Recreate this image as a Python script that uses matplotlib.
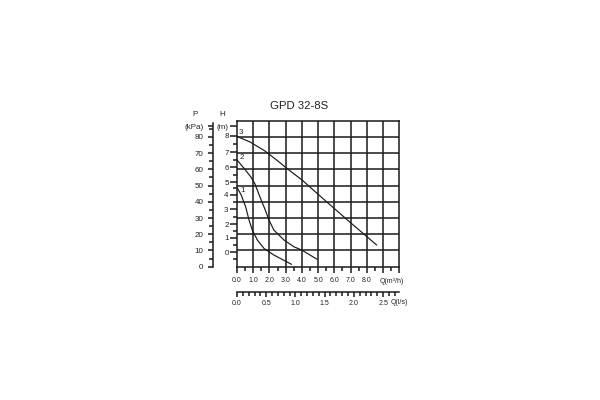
import matplotlib
matplotlib.use('Agg')
import matplotlib.pyplot as plt
from matplotlib.ticker import FixedLocator, MultipleLocator

plt.rcParams['font.family'] = ['Liberation Sans', 'DejaVu Sans']

# ---------------- data ----------------
title = "GPD 32-8S"
# pump curves: flow Q (m³/h) vs pressure P (kPa)
q1 = [0.02, 0.26, 0.53, 0.74, 0.94, 1.25, 1.66, 2.27, 3.35]
p1 = [48.5, 44.2, 37.0, 28.8, 22.6, 16.5, 11.3, 7.2, 1.5]
q2 = [0.0, 0.43, 0.84, 1.09, 1.29, 1.49, 1.70, 1.97, 2.27, 2.89, 3.50, 3.98, 4.93]
p2 = [65.8, 60.7, 55.5, 51.4, 46.2, 41.1, 36.0, 28.8, 22.6, 16.5, 12.3, 10.3, 4.6]
q3 = [0.0, 0.8, 1.7, 2.5, 3.2, 4.0, 5.5, 7.0, 8.6]
p3 = [80.3, 76.9, 71.5, 65.3, 59.6, 53.5, 40.2, 27.1, 13.4]
curve_names = ["1", "2", "3"]

p_ticks = [0, 10, 20, 30, 40, 50, 60, 70, 80]
p_labels = ["0", "10", "20", "30", "40", "50", "60", "70", "80"]
p_unit = "(kPa)"
h_labels = ["0", "1", "2", "3", "4", "5", "6", "7", "8"]
h_pos_kpa = [8.9, 17.8, 26.3, 35.4, 44.5, 52.2, 61.2, 70.4, 80.6]   # where H labels sit on the P scale
h_unit = "(m)"
q_m3h_ticks = [0, 1, 2, 3, 4, 5, 6, 7, 8]
q_m3h_labels = ["0.0", "1.0", "2.0", "3.0", "4.0", "5.0", "6.0", "7.0", "8.0"]
q_ls_ticks = [0.0, 0.5, 1.0, 1.5, 2.0, 2.5]
q_ls_labels = ["0.0", "0.5", "1.0", "1.5", "2.0", "2.5"]

# ---------------- figure ----------------
W, H = 600, 400
fig = plt.figure(figsize=(6, 4), dpi=100)
lc = '#1a1a1a'
tc = '#222222'

x0, x1 = 237, 399.3
y_top, y_bot = 120.7, 266.7
ax = fig.add_axes([x0 / W, 1 - y_bot / H, (x1 - x0) / W, (y_bot - y_top) / H])
ax.set_xlim(0, 10)
ax.set_ylim(0, 90)
for s in ax.spines.values():
    s.set_color(lc)
    s.set_linewidth(1.1)
for xv in range(1, 10):
    ax.axvline(xv, color=lc, lw=1.1, zorder=1)
for pv in range(10, 90, 10):
    ax.axhline(pv, color=lc, lw=1.1, zorder=1)

# curves
for q, p in zip([q1, q2, q3], [p1, p2, p3]):
    ax.plot(q, p, color=lc, lw=0.85, zorder=3, clip_on=False)
ax.annotate(curve_names[0], (q1[0], p1[0]), xytext=(2.5, -1.5), textcoords='offset points',
            fontsize=5.8, color=tc, ha='left', va='center')
ax.annotate(curve_names[1], (q2[0], p2[0]), xytext=(2.0, 1.5), textcoords='offset points',
            fontsize=5.8, color=tc, ha='left', va='center')
ax.annotate(curve_names[2], (q3[0], p3[0]), xytext=(1.5, 3.0), textcoords='offset points',
            fontsize=5.8, color=tc, ha='left', va='center')

# x axis (m³/h)
ax.xaxis.set_major_locator(FixedLocator(list(range(0, 11))))
ax.set_xticklabels(q_m3h_labels + ["", ""])
ax.xaxis.set_minor_locator(MultipleLocator(0.5))
ax.tick_params(axis='x', which='major', direction='out', length=4.3, width=1.1,
               color=lc, labelsize=5, labelcolor=tc, pad=3)
ax.tick_params(axis='x', which='minor', direction='out', length=2.8, width=1.1, color=lc)
ax.text(9.53, -9.0, "Q(m³/h)", fontsize=5, color=tc, ha='center', va='center')

# H ticks on the left of the grid
h_minor = [h_pos_kpa[0] - (h_pos_kpa[1] - h_pos_kpa[0]) / 2] + \
          [(a + b) / 2 for a, b in zip(h_pos_kpa[:-1], h_pos_kpa[1:])]
ax.yaxis.set_major_locator(FixedLocator(h_pos_kpa + [86.5]))
ax.set_yticklabels(h_labels + [h_unit])
ax.yaxis.set_minor_locator(FixedLocator(h_minor))
ax.tick_params(axis='y', which='major', direction='out', length=5, width=1.1,
               color=lc, labelsize=5.8, labelcolor=tc, pad=1)
ax.tick_params(axis='y', which='minor', direction='out', length=3, width=1.1, color=lc)

# P axis
axP = fig.add_axes([213 / W, 1 - y_bot / H, 0.0001, (y_bot - y_top) / H])
axP.set_ylim(0, 90)
axP.set_xticks([])
for k in ['right', 'top', 'bottom']:
    axP.spines[k].set_visible(False)
axP.spines['left'].set_bounds(0, 88.5)
axP.spines['left'].set_color(lc)
axP.spines['left'].set_linewidth(1.1)
axP.yaxis.set_major_locator(FixedLocator(p_ticks + [86.5]))
axP.set_yticklabels(p_labels + [p_unit])
axP.yaxis.set_minor_locator(FixedLocator([v + 5 for v in p_ticks]))
axP.tick_params(axis='y', which='major', direction='out', length=3.8, width=1.1,
                color=lc, labelsize=5.8, labelcolor=tc, pad=3.2)
axP.tick_params(axis='y', which='minor', direction='out', length=2.6, width=1.1, color=lc)
axP.patch.set_alpha(0)

fig.text(195 / W, 1 - 115 / H, "P", fontsize=5.8, color=tc, ha='center', va='center')
fig.text(222 / W, 1 - 115 / H, "H", fontsize=5.8, color=tc, ha='center', va='center')

# second flow axis (l/s)
axQ = fig.add_axes([x0 / W, 1 - 291.7 / H, (x1 - x0) / W, 0.0001])
axQ.set_xlim(0, 10 / 3.6)
axQ.set_yticks([])
for k in ['left', 'right', 'top']:
    axQ.spines[k].set_visible(False)
axQ.spines['bottom'].set_color(lc)
axQ.spines['bottom'].set_linewidth(1.1)
axQ.xaxis.set_major_locator(FixedLocator(q_ls_ticks))
axQ.set_xticklabels(q_ls_labels)
axQ.xaxis.set_minor_locator(MultipleLocator(0.1))
axQ.tick_params(axis='x', which='major', direction='out', length=3.8, width=1.1,
                color=lc, labelsize=5, labelcolor=tc, pad=2.2)
axQ.tick_params(axis='x', which='minor', direction='out', length=2.6, width=1.1, color=lc)
axQ.patch.set_alpha(0)
fig.text(399.5 / W, 1 - 302.3 / H, "Q(l/s)", fontsize=5, color=tc, ha='center', va='center')

fig.text(298.8 / W, 1 - 105.7 / H, title, fontsize=8.2, color=tc, ha='center', va='center')

fig.savefig('out.png', dpi=100)
